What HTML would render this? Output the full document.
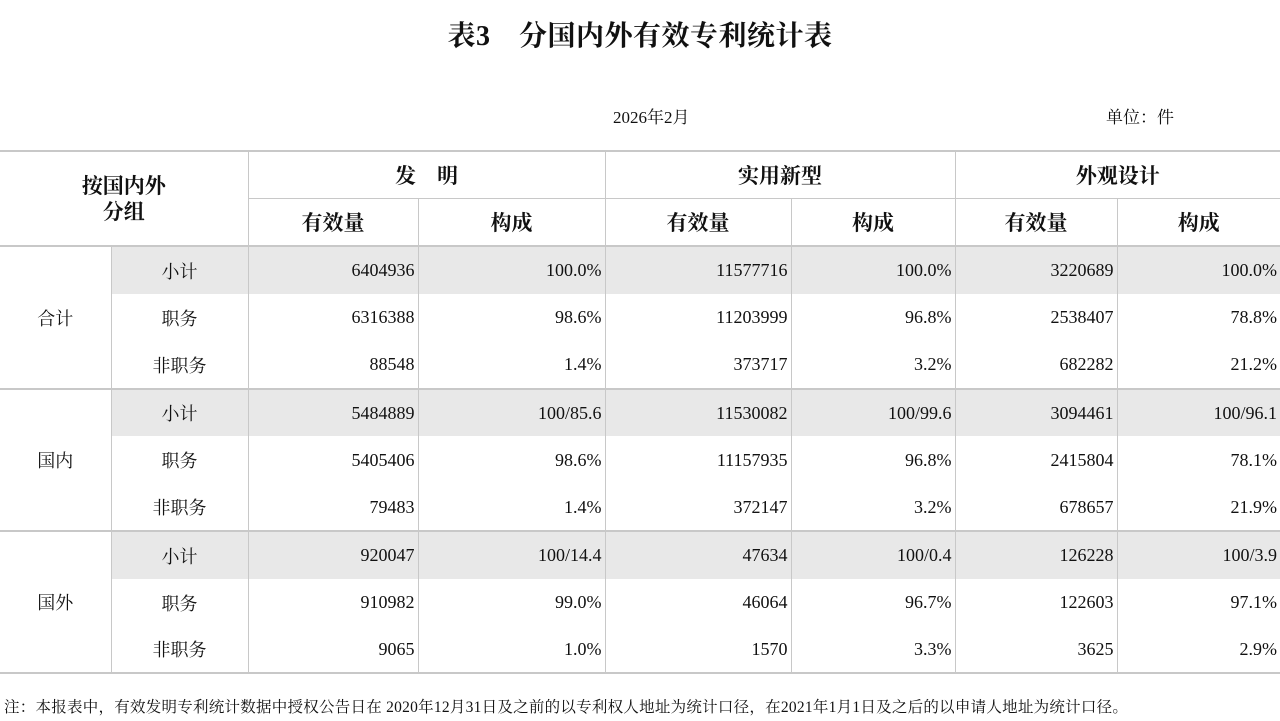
<!DOCTYPE html>
<html><head><meta charset="utf-8"><style>
body{margin:0;width:1280px;height:721px;background:#fff;font-family:"Liberation Serif","Noto Serif CJK SC",serif;color:#111;position:relative;overflow:hidden}
.t{position:absolute;left:0;right:0;top:14px;text-align:center;font-size:28px;font-weight:bold;letter-spacing:0.5px}
.d{position:absolute;left:613px;top:103px;font-size:17px}
.u{position:absolute;left:1106px;top:103px;font-size:17px}
table{position:absolute;left:0;top:150px;border-collapse:collapse;table-layout:fixed;width:1280px}
td{padding:0;font-size:18px;white-space:nowrap;border-left:1.5px solid #c8c8c8}
td.f{border-left:none}
.h td{font-size:21px;font-weight:bold;text-align:center}
.r{text-align:right;padding-right:3px}
.c{text-align:center}
.g td.x{background:#e8e8e8}
.top td{border-top:2px solid #c8c8c8}
.n{position:absolute;left:4px;top:695px;font-size:15.5px;letter-spacing:0.25px}
</style></head><body>
<div class="t">表3　分国内外有效专利统计表</div>
<div class="d">2026年2月</div>
<div class="u">单位：件</div>
<table>
<colgroup><col style="width:111px"><col style="width:137px"><col style="width:170px"><col style="width:187px"><col style="width:186px"><col style="width:164px"><col style="width:162px"><col style="width:163px"></colgroup>
<tr class="h top" style="height:47px"><td class="f" colspan="2" rowspan="2" style="line-height:26px">按国内外<br>分组</td><td colspan="2">发　明</td><td colspan="2">实用新型</td><td colspan="2">外观设计</td></tr>
<tr class="h" style="height:48px"><td style="border-top:1.5px solid #c8c8c8">有效量</td><td style="border-top:1.5px solid #c8c8c8">构成</td><td style="border-top:1.5px solid #c8c8c8">有效量</td><td style="border-top:1.5px solid #c8c8c8">构成</td><td style="border-top:1.5px solid #c8c8c8">有效量</td><td style="border-top:1.5px solid #c8c8c8">构成</td></tr>

<tr class="g top" style="height:48px"><td rowspan="3" class="c f">合计</td><td class="c x">小计</td><td class="r x">6404936</td><td class="r x">100.0%</td><td class="r x">11577716</td><td class="r x">100.0%</td><td class="r x">3220689</td><td class="r x">100.0%</td></tr>
<tr style="height:47px"><td class="c">职务</td><td class="r">6316388</td><td class="r">98.6%</td><td class="r">11203999</td><td class="r">96.8%</td><td class="r">2538407</td><td class="r">78.8%</td></tr>
<tr style="height:48px"><td class="c">非职务</td><td class="r">88548</td><td class="r">1.4%</td><td class="r">373717</td><td class="r">3.2%</td><td class="r">682282</td><td class="r">21.2%</td></tr>

<tr class="g top" style="height:47px"><td rowspan="3" class="c f">国内</td><td class="c x">小计</td><td class="r x">5484889</td><td class="r x">100/85.6</td><td class="r x">11530082</td><td class="r x">100/99.6</td><td class="r x">3094461</td><td class="r x">100/96.1</td></tr>
<tr style="height:48px"><td class="c">职务</td><td class="r">5405406</td><td class="r">98.6%</td><td class="r">11157935</td><td class="r">96.8%</td><td class="r">2415804</td><td class="r">78.1%</td></tr>
<tr style="height:47px"><td class="c">非职务</td><td class="r">79483</td><td class="r">1.4%</td><td class="r">372147</td><td class="r">3.2%</td><td class="r">678657</td><td class="r">21.9%</td></tr>

<tr class="g top" style="height:48px"><td rowspan="3" class="c f">国外</td><td class="c x">小计</td><td class="r x">920047</td><td class="r x">100/14.4</td><td class="r x">47634</td><td class="r x">100/0.4</td><td class="r x">126228</td><td class="r x">100/3.9</td></tr>
<tr style="height:47px"><td class="c">职务</td><td class="r">910982</td><td class="r">99.0%</td><td class="r">46064</td><td class="r">96.7%</td><td class="r">122603</td><td class="r">97.1%</td></tr>
<tr style="height:47px;border-bottom:2px solid #c8c8c8"><td class="c">非职务</td><td class="r">9065</td><td class="r">1.0%</td><td class="r">1570</td><td class="r">3.3%</td><td class="r">3625</td><td class="r">2.9%</td></tr>
</table>
<div class="n">注：本报表中，有效发明专利统计数据中授权公告日在 2020年12月31日及之前的以专利权人地址为统计口径，在2021年1月1日及之后的以申请人地址为统计口径。</div>
</body></html>
